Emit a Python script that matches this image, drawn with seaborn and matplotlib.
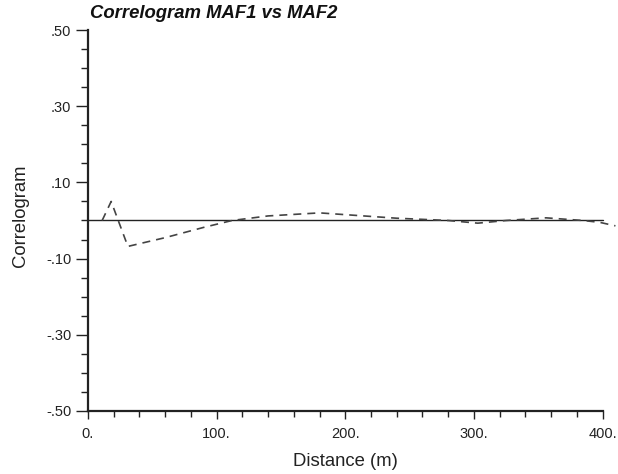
import matplotlib
matplotlib.use("Agg")
import matplotlib.pyplot as plt
import seaborn as sns
import numpy as np
import pandas as pd
from matplotlib.ticker import MultipleLocator, FuncFormatter

# Data
distance = [11, 18, 31, 60, 90, 112, 140, 180, 210, 240, 280, 303, 325, 356, 385, 398, 410]
correlogram = [0.0, 0.05, -0.068, -0.045, -0.018, 0.0, 0.012, 0.02, 0.013, 0.006,
               0.0, -0.007, 0.0, 0.007, 0.0, -0.005, -0.014]
x_ticks = [0, 100, 200, 300, 400]
x_tick_labels = ["0.", "100.", "200.", "300.", "400."]
y_ticks = [-0.5, -0.3, -0.1, 0.1, 0.3, 0.5]
y_tick_labels = ["-.50", "-.30", "-.10", ".10", ".30", ".50"]

df = pd.DataFrame({"Distance": distance, "Correlogram": correlogram})

sns.set_style("ticks")
plt.rcParams["font.family"] = ["Liberation Sans", "DejaVu Sans"]

fig = plt.figure(figsize=(6.18, 4.74), dpi=100)
ax = fig.add_axes([88 / 618, 1 - 411 / 474, 530 / 618, 381 / 474])

sns.lineplot(data=df, x="Distance", y="Correlogram", ax=ax, color="#444444",
             linewidth=1.2, linestyle=(0, (4.8, 3.6)), clip_on=False)
ax.plot([0, 400], [0, 0], color="#222222", linewidth=1.0, zorder=1)

ax.set_xlim(0, 412)
ax.set_ylim(-0.5, 0.5)

ax.set_xticks(x_ticks)
ax.set_xticklabels(x_tick_labels)
ax.set_yticks(y_ticks)
ax.set_yticklabels(y_tick_labels)
ax.xaxis.set_minor_locator(MultipleLocator(20))
ax.yaxis.set_minor_locator(MultipleLocator(0.05))

for side in ["top", "right"]:
    ax.spines[side].set_visible(False)
ax.spines["bottom"].set_bounds(0, 400)
ax.spines["left"].set_linewidth(1.6)
ax.spines["bottom"].set_linewidth(1.6)
ax.spines["left"].set_color("#222222")
ax.spines["bottom"].set_color("#222222")

ax.tick_params(axis="y", which="major", length=8.6, width=1.0, pad=3.5,
               labelsize=10.5, colors="#222222")
ax.tick_params(axis="y", which="minor", length=5, width=1.0, colors="#222222")
ax.tick_params(axis="x", which="major", length=5.5, width=1.0, pad=6,
               labelsize=10.5, colors="#222222")
ax.tick_params(axis="x", which="minor", length=4, width=1.0, colors="#222222")

ax.set_xlabel("Distance (m)", fontsize=13.3, color="#222222")
ax.set_ylabel("Correlogram", fontsize=13.3, color="#222222")
ax.xaxis.set_label_coords(200 / 412, -0.110)
ax.yaxis.set_label_coords(-0.111, 0.512)

fig.text(90 / 618, 1 - 14 / 474, "Correlogram MAF1 vs MAF2", fontsize=13.3,
         fontweight="bold", fontstyle="italic", va="center", ha="left",
         color="#111111")

fig.savefig("out.png", dpi=100)
